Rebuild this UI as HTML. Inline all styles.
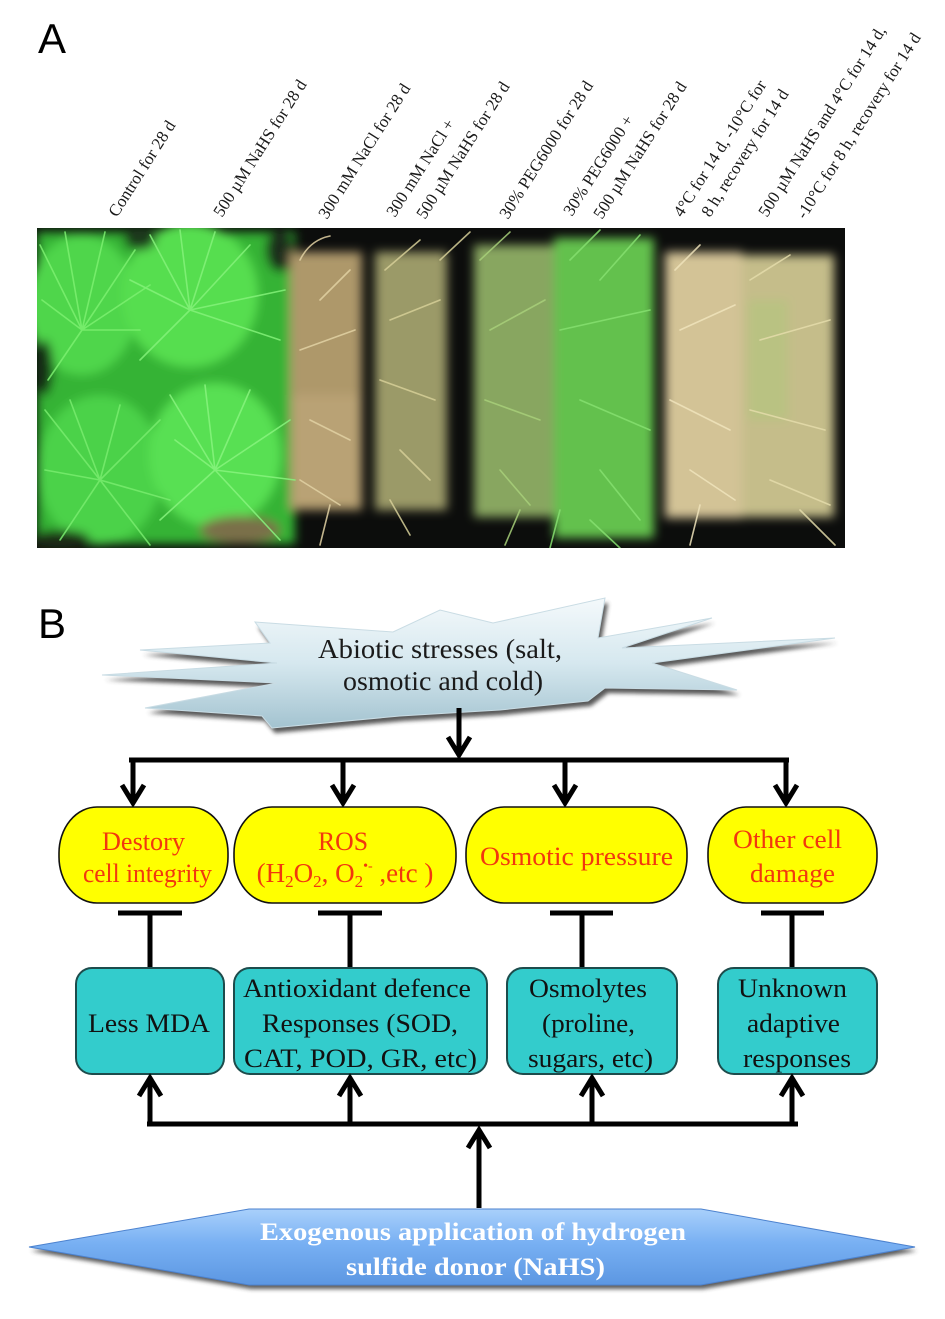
<!DOCTYPE html>
<html><head><meta charset="utf-8">
<style>
html,body{margin:0;padding:0;background:#fff;}
svg{display:block;}
</style></head><body>
<svg width="945" height="1319" viewBox="0 0 945 1319" xmlns="http://www.w3.org/2000/svg">
<defs>
<clipPath id="pc"><rect x="37" y="228" width="808" height="320"/></clipPath>
<filter id="bl" x="-20%" y="-20%" width="140%" height="140%"><feGaussianBlur stdDeviation="5"/></filter>
<filter id="bl2" x="-20%" y="-20%" width="140%" height="140%"><feGaussianBlur stdDeviation="2.5"/></filter>
<filter id="sh" x="-10%" y="-10%" width="120%" height="130%"><feGaussianBlur stdDeviation="2"/></filter>
<linearGradient id="sg" x1="0" y1="0" x2="0" y2="1">
<stop offset="0" stop-color="#f4f9fb"/><stop offset="0.5" stop-color="#d6e8ef"/><stop offset="1" stop-color="#a3c3d0"/></linearGradient>
<linearGradient id="hg" x1="0" y1="0" x2="0" y2="1">
<stop offset="0" stop-color="#a9d0fb"/><stop offset="0.45" stop-color="#78b0f3"/><stop offset="1" stop-color="#5c97e2"/></linearGradient>
</defs>

<!-- Panel labels -->
<text x="38" y="53" font-family="Liberation Sans, sans-serif" font-size="42" fill="#000">A</text>
<text x="38" y="638" font-family="Liberation Sans, sans-serif" font-size="42" fill="#000">B</text>

<!-- Rotated column labels -->
<g font-family="Liberation Serif, serif" font-size="17" fill="#1a1a1a">
<text x="117" y="218" transform="rotate(-57.5 117 218)">Control for 28 d</text>
<text x="222" y="218" transform="rotate(-57.5 222 218)">500 µM NaHS for 28 d</text>
<text x="327" y="220" transform="rotate(-57.5 327 220)">300 mM NaCl for 28 d</text>
<text x="395" y="218" transform="rotate(-57.5 395 218)">300 mM NaCl +</text>
<text x="425" y="220" transform="rotate(-57.5 425 220)">500 µM NaHS for 28 d</text>
<text x="508" y="220" transform="rotate(-57.5 508 220)">30% PEG6000 for 28 d</text>
<text x="572" y="217" transform="rotate(-57.5 572 217)">30% PEG6000 +</text>
<text x="602" y="220" transform="rotate(-57.5 602 220)">500 µM NaHS for 28 d</text>
<text x="682" y="218" transform="rotate(-57.5 682 218)">4°C for 14 d, -10°C for</text>
<text x="710" y="218" transform="rotate(-57.5 710 218)">8 h, recovery for 14 d</text>
<text x="767" y="218" transform="rotate(-57.5 767 218)">500 µM NaHS and 4°C for 14 d,</text>
<text x="805" y="220" transform="rotate(-57.5 805 220)">-10°C for 8 h, recovery for 14 d</text>
</g>

<!-- Photo -->
<g clip-path="url(#pc)">
<rect x="37" y="228" width="808" height="320" fill="#0c0d0c"/>
<g filter="url(#bl)">
  <rect x="37" y="232" width="258" height="312" fill="#34b334"/>
  <ellipse cx="82" cy="305" rx="55" ry="70" fill="#4fd64b"/>
  <ellipse cx="190" cy="295" rx="68" ry="72" fill="#56de50"/>
  <ellipse cx="100" cy="470" rx="62" ry="75" fill="#4cd249"/>
  <ellipse cx="215" cy="455" rx="66" ry="72" fill="#58e052"/>
  <ellipse cx="44" cy="368" rx="9" ry="28" fill="#163016"/>
  <ellipse cx="140" cy="238" rx="16" ry="12" fill="#1c3a1c"/>
  <ellipse cx="280" cy="250" rx="14" ry="22" fill="#1a2e1a"/>
  <ellipse cx="60" cy="540" rx="30" ry="10" fill="#1a2a18"/>
  <ellipse cx="240" cy="530" rx="40" ry="14" fill="#7a7048"/>
  <rect x="290" y="252" width="72" height="258" fill="#ae986a"/>
  <rect x="293" y="395" width="66" height="110" fill="#b9a274"/>
  <rect x="375" y="252" width="72" height="258" fill="#9b9a68"/>
  <rect x="474" y="245" width="80" height="272" fill="#88a660"/>
  <rect x="554" y="238" width="100" height="300" fill="#63c14e"/>
  <rect x="665" y="252" width="77" height="266" fill="#d3c396"/>
  <rect x="742" y="255" width="92" height="262" fill="#c5bd8a"/>
  <rect x="748" y="300" width="40" height="120" fill="#b9c282"/>
</g>
<g fill="none" stroke-linecap="round" stroke-width="1.6" opacity="0.85">
  <path d="M82 330 L40 245 M82 330 L65 232 M82 330 L105 232 M82 330 L135 250 M82 330 L150 285 M82 330 L42 300 M82 330 L140 330 M82 330 L48 380" stroke="#7cf070"/>
  <path d="M190 310 L150 235 M190 310 L180 230 M190 310 L215 232 M190 310 L250 245 M190 310 L285 290 M190 310 L130 280 M190 310 L280 340 M190 310 L140 360" stroke="#84f27a"/>
  <path d="M100 480 L45 410 M100 480 L70 400 M100 480 L120 405 M100 480 L160 420 M100 480 L45 470 M100 480 L60 540 M100 480 L150 545 M100 480 L170 500" stroke="#78ec6e"/>
  <path d="M215 470 L170 395 M215 470 L205 385 M215 470 L250 390 M215 470 L290 420 M215 470 L295 480 M215 470 L280 540 M215 470 L160 520 M215 470 L175 440" stroke="#88f47e"/>
  <path d="M300 260 Q310 240 330 236 M320 300 L350 270 M300 350 L355 330 M310 420 L350 440 M300 480 L340 505 M330 505 L320 545" stroke="#e2d2a4"/>
  <path d="M385 270 L420 240 M390 320 L440 300 M380 380 L435 400 M400 450 L430 480 M390 500 L410 535 M440 260 L470 232" stroke="#d6cf98"/>
  <path d="M480 260 L510 232 M490 330 L545 300 M485 400 L540 420 M500 470 L530 505 M520 510 L505 545" stroke="#a8d07a"/>
  <path d="M570 260 L600 230 M600 280 L640 235 M560 330 L650 310 M580 400 L650 430 M600 470 L640 520 M590 520 L620 548 M560 510 L550 548" stroke="#86e070"/>
  <path d="M675 270 L700 245 M680 330 L735 305 M670 400 L730 430 M690 470 L735 500 M700 505 L690 545" stroke="#f0e4bc"/>
  <path d="M750 280 L790 255 M760 340 L830 320 M750 410 L825 430 M770 480 L830 505 M800 510 L835 545" stroke="#e4dcaa"/>
</g>
</g>

<!-- Starburst -->
<polygon points="255,622 393,632 440,610 493,623 605,598 598,638 712,618 622,648 835,638 652,663 737,690 605,688 588,701 500,710 400,716 272,728 262,716 145,708 277,683 102,675 277,663 140,650 270,643" fill="#3a3a3a" transform="translate(3,5)" filter="url(#sh)" opacity="0.85"/>
<polygon points="255,622 393,632 440,610 493,623 605,598 598,638 712,618 622,648 835,638 652,663 737,690 605,688 588,701 500,710 400,716 272,728 262,716 145,708 277,683 102,675 277,663 140,650 270,643" fill="url(#sg)" stroke="#c9dce4" stroke-width="1"/>
<g font-family="Liberation Serif, serif" font-size="27" fill="#1a1a1a" text-anchor="middle">
<text x="440" y="658" textLength="244" lengthAdjust="spacingAndGlyphs">Abiotic stresses (salt,</text>
<text x="443" y="690" textLength="200" lengthAdjust="spacingAndGlyphs">osmotic and cold)</text>
</g>

<!-- Top connectors -->
<g stroke="#000" stroke-width="5" fill="none" stroke-linejoin="miter">
  <line x1="459" y1="708" x2="459" y2="756"/>
  <path d="M448 737 L459 755 L470 737"/>
  <line x1="129" y1="760" x2="789" y2="760"/>
  <line x1="133" y1="760" x2="133" y2="803"/>
  <path d="M122 785 L133 803 L144 785"/>
  <line x1="343" y1="760" x2="343" y2="803"/>
  <path d="M332 785 L343 803 L354 785"/>
  <line x1="565" y1="760" x2="565" y2="803"/>
  <path d="M554 785 L565 803 L576 785"/>
  <line x1="786" y1="758" x2="786" y2="803"/>
  <path d="M775 785 L786 803 L797 785"/>
</g>

<!-- Yellow boxes -->
<g fill="#ffff00" stroke="#111" stroke-width="1.6">
  <rect x="59" y="807" width="169" height="96" rx="38" ry="46"/>
  <rect x="234" y="807" width="222" height="96" rx="38" ry="46"/>
  <rect x="466" y="807" width="221" height="96" rx="38" ry="46"/>
  <rect x="708" y="807" width="169" height="96" rx="38" ry="46"/>
</g>
<g font-family="Liberation Serif, serif" font-size="26" fill="#f2380e" text-anchor="middle">
  <text x="143.5" y="850" textLength="83" lengthAdjust="spacingAndGlyphs">Destory</text>
  <text x="147.5" y="882" textLength="129" lengthAdjust="spacingAndGlyphs">cell integrity</text>
  <text x="343" y="850" textLength="50" lengthAdjust="spacingAndGlyphs">ROS</text>
  <text x="345" y="882" font-size="27">(H<tspan font-size="17" dy="5">2</tspan><tspan dy="-5">O</tspan><tspan font-size="17" dy="5">2</tspan><tspan dy="-5">, O</tspan><tspan font-size="17" dy="5">2</tspan><tspan font-size="14" dy="-17">•-</tspan><tspan dy="12"> ,etc )</tspan></text>
  <text x="576.5" y="865" textLength="193" lengthAdjust="spacingAndGlyphs">Osmotic pressure</text>
  <text x="787.5" y="848" textLength="109" lengthAdjust="spacingAndGlyphs">Other cell</text>
  <text x="792.5" y="882" textLength="85" lengthAdjust="spacingAndGlyphs">damage</text>
</g>

<!-- T-bars -->
<g stroke="#000" stroke-width="5" fill="none">
  <line x1="118" y1="913" x2="182" y2="913"/><line x1="150" y1="913" x2="150" y2="968"/>
  <line x1="318" y1="913" x2="382" y2="913"/><line x1="350" y1="913" x2="350" y2="968"/>
  <line x1="550" y1="913" x2="613" y2="913"/><line x1="582" y1="913" x2="582" y2="968"/>
  <line x1="761" y1="913" x2="824" y2="913"/><line x1="792" y1="913" x2="792" y2="968"/>
</g>

<!-- Teal boxes -->
<g fill="#33cccc" stroke="#1d4c4c" stroke-width="2">
  <rect x="76" y="968" width="148" height="106" rx="16" ry="16"/>
  <rect x="234" y="968" width="253" height="106" rx="16" ry="16"/>
  <rect x="507" y="968" width="170" height="106" rx="16" ry="16"/>
  <rect x="718" y="968" width="159" height="106" rx="16" ry="16"/>
</g>
<g font-family="Liberation Serif, serif" font-size="26" fill="#111" text-anchor="middle">
  <text x="149" y="1032" textLength="122" lengthAdjust="spacingAndGlyphs">Less MDA</text>
  <text x="357" y="997" textLength="228" lengthAdjust="spacingAndGlyphs">Antioxidant defence</text>
  <text x="360" y="1032" textLength="196" lengthAdjust="spacingAndGlyphs">Responses (SOD,</text>
  <text x="360.5" y="1067" textLength="233" lengthAdjust="spacingAndGlyphs">CAT, POD, GR, etc)</text>
  <text x="588" y="997" textLength="118" lengthAdjust="spacingAndGlyphs">Osmolytes</text>
  <text x="588.5" y="1032" textLength="93" lengthAdjust="spacingAndGlyphs">(proline,</text>
  <text x="590.5" y="1067" textLength="125" lengthAdjust="spacingAndGlyphs">sugars, etc)</text>
  <text x="792.5" y="997" textLength="109" lengthAdjust="spacingAndGlyphs">Unknown</text>
  <text x="793.5" y="1032" textLength="93" lengthAdjust="spacingAndGlyphs">adaptive</text>
  <text x="797" y="1067" textLength="108" lengthAdjust="spacingAndGlyphs">responses</text>
</g>

<!-- Bottom connectors -->
<g stroke="#000" stroke-width="5" fill="none" stroke-linejoin="miter">
  <line x1="147" y1="1124" x2="798" y2="1124"/>
  <line x1="150" y1="1124" x2="150" y2="1080"/>
  <path d="M139 1096 L150 1078 L161 1096"/>
  <line x1="350" y1="1124" x2="350" y2="1080"/>
  <path d="M339 1096 L350 1078 L361 1096"/>
  <line x1="592" y1="1124" x2="592" y2="1080"/>
  <path d="M581 1096 L592 1078 L603 1096"/>
  <line x1="792" y1="1126" x2="792" y2="1080"/>
  <path d="M781 1096 L792 1078 L803 1096"/>
  <line x1="479" y1="1208" x2="479" y2="1131"/>
  <path d="M468 1148 L479 1130 L490 1148"/>
</g>

<!-- Hexagon -->
<polygon points="29,1247 249,1209 701,1209 915,1247 701,1285 249,1285" fill="#333" transform="translate(2,4)" filter="url(#sh)" opacity="0.8"/>
<polygon points="29,1247 249,1209 701,1209 915,1247 701,1285 249,1285" fill="url(#hg)" stroke="#4c82cf" stroke-width="1"/>
<g font-family="Liberation Serif, serif" font-size="25" font-weight="bold" fill="#fff" text-anchor="middle">
  <text x="473" y="1240" textLength="426" lengthAdjust="spacingAndGlyphs">Exogenous application of hydrogen</text>
  <text x="475.5" y="1275" textLength="259" lengthAdjust="spacingAndGlyphs">sulfide donor (NaHS)</text>
</g>
</svg>
</body></html>
